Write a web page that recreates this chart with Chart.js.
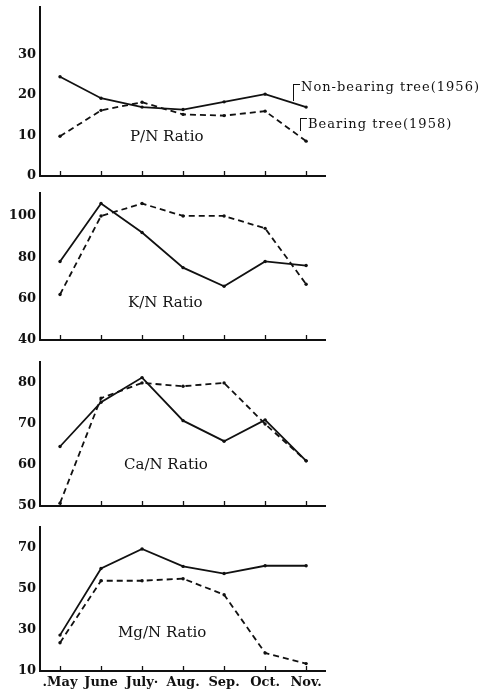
<!DOCTYPE html>
<html>
<head>
<meta charset="utf-8">
<script src="https://cdn.jsdelivr.net/npm/chart.js@4/dist/chart.umd.min.js"></script>
<style>
  html, body { margin: 0; padding: 0; background: #fff; }
  #wrap { position: relative; width: 491px; height: 697px; overflow: hidden; }
  #wrap canvas { position: absolute; left: 0; }
  .txt { position: absolute; font-family: "DejaVu Serif", serif; color: #111; white-space: nowrap; line-height: 1; }
  .ratio { font-size: 15px; }
  .legend { font-size: 13px; letter-spacing: 1px; }
  .bracket { position: absolute; border-left: 1.5px solid #111; border-top: 1.5px solid #111; }
</style>
</head>
<body>
<div id="wrap">
  <canvas id="pn"></canvas>
  <canvas id="kn"></canvas>
  <canvas id="can"></canvas>
  <canvas id="mgn"></canvas>

  <div class="txt ratio" style="left:130px; top:129px;">P/N Ratio</div>
  <div class="txt ratio" style="left:128px; top:295px;">K/N Ratio</div>
  <div class="txt ratio" style="left:124px; top:457px;">Ca/N Ratio</div>
  <div class="txt ratio" style="left:118px; top:625px;">Mg/N Ratio</div>

  <div class="bracket" style="left:293px; top:84px; width:6px; height:16px;"></div>
  <div class="txt legend" style="left:301px; top:80px;">Non-bearing tree(1956)</div>
  <div class="bracket" style="left:300px; top:118px; width:6px; height:12px;"></div>
  <div class="txt legend" style="left:308px; top:117px;">Bearing tree(1958)</div>
</div>

<script>
// Sampling months (shared by all four panels)
const months = ['.May', 'June', 'July·', 'Aug.', 'Sep.', 'Oct.', 'Nov.'];

// P/N ratio
const pnNonBearing = [24.5, 19.2, 17.0, 16.4, 18.3, 20.2, 17.0];
const pnBearing    = [9.8, 16.2, 18.2, 15.2, 14.9, 16.0, 8.6];
const pnTicks      = [0, 10, 20, 30];

// K/N ratio
const knNonBearing = [78, 106, 92, 75, 66, 78, 76];
const knBearing    = [62, 100, 106, 100, 100, 94, 67];
const knTicks      = [40, 60, 80, 100];

// Ca/N ratio
const caNonBearing = [64.5, 75.3, 81.3, 70.8, 65.8, 71.0, 61.0];
const caBearing    = [50.7, 76.3, 80.0, 79.2, 80.0, 70.0, 61.0];
const caTicks      = [50, 60, 70, 80];

// Mg/N ratio
const mgNonBearing = [27.5, 60, 69.5, 61, 57.5, 61.3, 61.3];
const mgBearing    = [23.8, 54, 54, 55, 47.2, 18.8, 13.6];
const mgTicks      = [10, 30, 50, 70];

const INK = '#111';
const tickFont = { family: 'DejaVu Serif', size: 13, weight: 'bold' };

function points(arr) {
  return arr.map((v, i) => ({ x: i, y: v }));
}

// One stacked panel: canvas placed so its plot area spans areaTop..areaBottom on the page
function panel(id, nonBearing, bearing, yMin, yMax, yTicks, areaTop, areaBottom, showMonths) {
  const padTop = 7;
  const xAxisH = showMonths ? 24 : 10;
  const canvas = document.getElementById(id);
  const top = areaTop - padTop;
  canvas.style.top = top + 'px';
  canvas.width = 330;
  canvas.height = areaBottom - top + xAxisH;

  const line = {
    borderColor: INK,
    backgroundColor: INK,
    borderWidth: 1.8,
    pointRadius: 1.7,
    pointBackgroundColor: INK,
    pointBorderWidth: 0,
    tension: 0
  };

  return new Chart(canvas, {
    type: 'line',
    data: {
      datasets: [
        Object.assign({ label: 'Non-bearing tree(1956)', data: points(nonBearing) }, line),
        Object.assign({ label: 'Bearing tree(1958)', data: points(bearing), borderDash: [6, 4] }, line)
      ]
    },
    options: {
      responsive: false,
      animation: false,
      devicePixelRatio: 1,
      layout: { padding: { top: padTop, left: 0, right: 5, bottom: 0 } },
      plugins: { legend: { display: false }, tooltip: { enabled: false } },
      scales: {
        x: {
          type: 'linear',
          min: -0.488,
          max: 6.46,
          afterBuildTicks: s => { s.ticks = months.map((m, i) => ({ value: i })); },
          afterFit: s => {
            s.height = xAxisH;
            s.paddingLeft = 0;
            s.paddingRight = 0;
          },
          border: { display: true, color: INK, width: 2 },
          grid: {
            display: true,
            drawOnChartArea: false,
            drawTicks: true,
            tickLength: -5,
            tickColor: INK,
            tickWidth: 1.3
          },
          ticks: {
            display: showMonths,
            color: INK,
            font: tickFont,
            padding: 9,
            maxRotation: 0,
            autoSkip: false,
            callback: v => months[v]
          }
        },
        y: {
          min: yMin,
          max: yMax,
          afterBuildTicks: s => { s.ticks = yTicks.map(v => ({ value: v })); },
          afterFit: s => {
            s.width = 40;
            s.paddingTop = 0;
            s.paddingBottom = 0;
          },
          border: { display: true, color: INK, width: 2 },
          grid: { display: false, drawTicks: false },
          ticks: {
            color: INK,
            font: tickFont,
            padding: 4,
            callback: v => String(v)
          }
        }
      }
    }
  });
}

panel('pn',  pnNonBearing, pnBearing, 0, 41.7, pnTicks, 7, 176, false);
panel('kn',  knNonBearing, knBearing, 40, 111.1, knTicks, 193, 340, false);
panel('can', caNonBearing, caBearing, 50, 85.1, caTicks, 362, 506, false);
panel('mgn', mgNonBearing, mgBearing, 10, 80.2, mgTicks, 527, 671, true);
</script>
</body>
</html>
